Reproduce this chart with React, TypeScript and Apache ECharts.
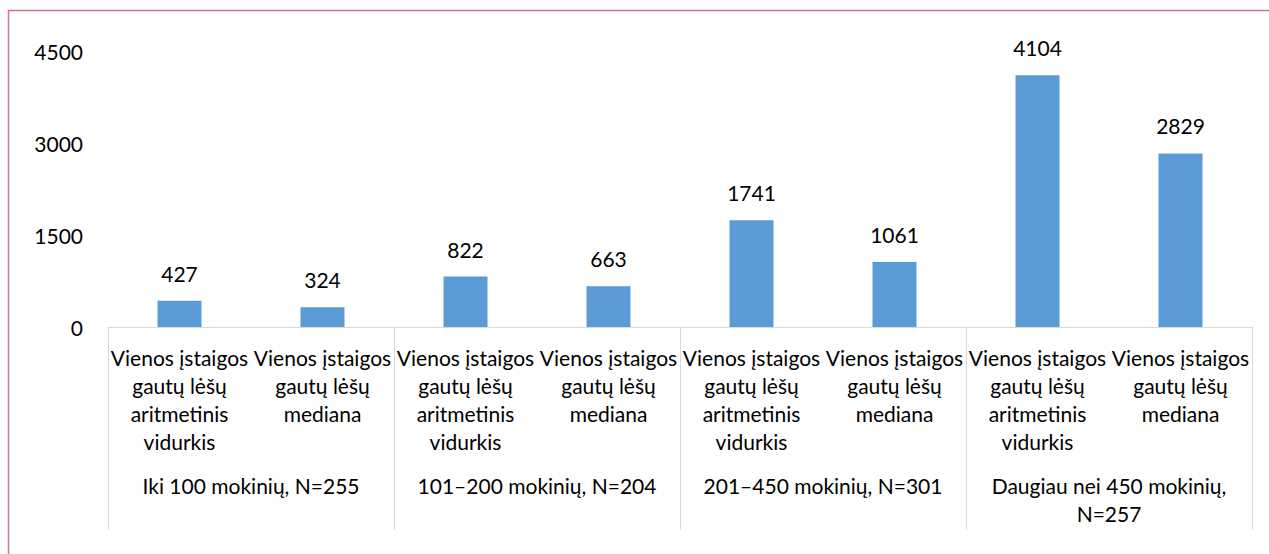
import React, { useEffect, useRef } from "react";
import * as echarts from "echarts";

const subCategories = [
  "Vienos įstaigos\ngautų lėšų\naritmetinis\nvidurkis",
  "Vienos įstaigos\ngautų lėšų\nmediana",
  "Vienos įstaigos\ngautų lėšų\naritmetinis\nvidurkis",
  "Vienos įstaigos\ngautų lėšų\nmediana",
  "Vienos įstaigos\ngautų lėšų\naritmetinis\nvidurkis",
  "Vienos įstaigos\ngautų lėšų\nmediana",
  "Vienos įstaigos\ngautų lėšų\naritmetinis\nvidurkis",
  "Vienos įstaigos\ngautų lėšų\nmediana",
];
const groupCategories = [
  "Iki 100 mokinių, N=255",
  "101–200 mokinių, N=204",
  "201–450 mokinių, N=301",
  "Daugiau nei 450 mokinių,\nN=257",
];
const values = [427, 324, 822, 663, 1741, 1061, 4104, 2829];
const yMin = 0;
const yMax = 4500;
const yInterval = 1500;

const FONT = "Lato, 'Liberation Sans', sans-serif";
const FS = 21;

export default function App() {
  const ref = useRef<HTMLDivElement>(null);
  useEffect(() => {
    if (!ref.current) return;
    const chart = echarts.init(ref.current, null, { renderer: "svg" });
    chart.setOption({
      animation: false,
      backgroundColor: "#ffffff",
      textStyle: { fontFamily: FONT },
      graphic: [
        {
          type: "rect",
          shape: { x: 8.5, y: 10.5, width: 1400, height: 700 },
          style: { fill: "none", stroke: "#D9708E", lineWidth: 1.5 },
          silent: true,
        },
      ],
      grid: { left: 108, right: 17, top: 51, bottom: 227, containLabel: false },
      xAxis: [
        {
          type: "category",
          data: subCategories,
          position: "bottom",
          axisLine: { show: true, lineStyle: { color: "#D9D9D9", width: 1 } },
          axisTick: { show: false },
          axisLabel: {
            interval: 0,
            margin: 16,
            color: "#000000",
            fontFamily: FONT,
            fontSize: FS,
            lineHeight: 28,
            align: "center",
          },
        },
        {
          type: "category",
          data: groupCategories,
          position: "bottom",
          axisLine: { show: false },
          axisTick: {
            show: true,
            length: 203,
            lineStyle: { color: "#D9D9D9", width: 1 },
          },
          axisLabel: {
            interval: 0,
            margin: 144,
            color: "#000000",
            fontFamily: FONT,
            fontSize: FS,
            lineHeight: 28,
          },
        },
      ],
      yAxis: {
        type: "value",
        min: yMin,
        max: yMax,
        interval: yInterval,
        axisLine: { show: false },
        axisTick: { show: false },
        splitLine: { show: false },
        axisLabel: {
          margin: 25,
          color: "#000000",
          fontFamily: FONT,
          fontSize: FS,
          formatter: (v: number) => String(v),
        },
      },
      series: [
        {
          type: "bar",
          xAxisIndex: 0,
          data: values,
          barWidth: 44,
          itemStyle: { color: "#5B9BD5" },
          label: {
            show: true,
            position: "top",
            distance: 17,
            color: "#000000",
            fontFamily: FONT,
            fontSize: FS,
          },
        },
      ],
    });
    return () => chart.dispose();
  }, []);
  return (
    <div
      ref={ref}
      style={{ position: "fixed", left: 0, top: 0, width: 1269, height: 554 }}
    />
  );
}
